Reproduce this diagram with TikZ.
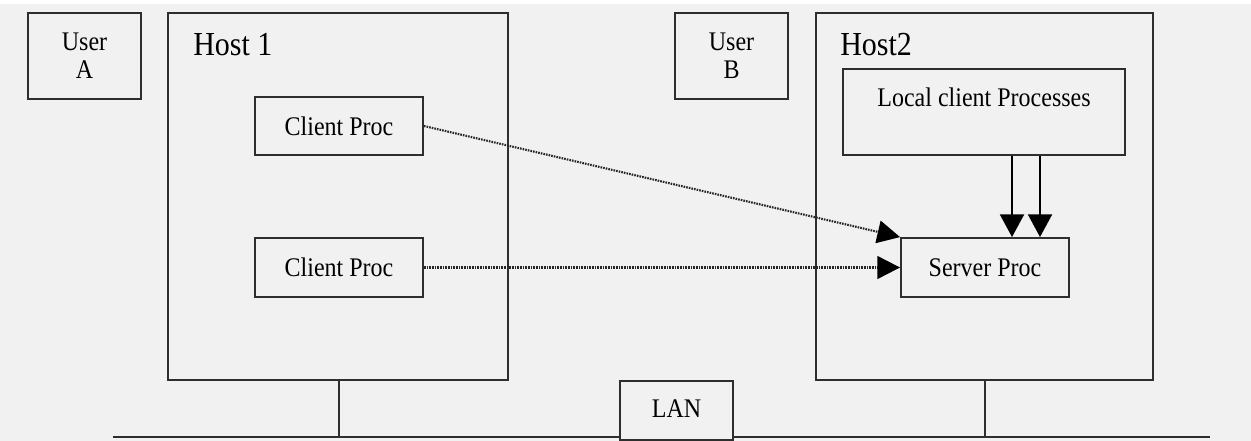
\documentclass[tikz,border=0pt]{standalone}
\usepackage{fontspec}
\setmainfont{Liberation Serif}
\usetikzlibrary{arrows.meta}
\newcommand{\tallt}[1]{\scalebox{1}[1.12]{#1}}
\definecolor{bgc}{HTML}{F1F1F1}
\definecolor{linec}{HTML}{2E2E2E}
\tikzset{
  box/.style={draw=linec, line width=1.4pt, rectangle, inner sep=0pt, font=\fontsize{18}{20}\selectfont, align=center},
  lbl/.style={inner sep=0pt, font=\fontsize{22.5}{24}\selectfont, anchor=west},
  dotarrow/.style={draw=black!85, line width=1.6pt, dash pattern=on 1.2pt off 0.8pt, -{Triangle[length=17pt,width=17pt,color=black,fill=black]}},
  solidarrow/.style={draw=black, line width=1.4pt, -{Triangle[length=17pt,width=18pt]}},
  wire/.style={draw=linec, line width=1.4pt}
}
\begin{document}
\begin{tikzpicture}[x=0.75pt,y=-0.75pt]
\fill[bgc] (0,0) rectangle (1251,441);
\fill[white] (0,0) rectangle (1251,4);
\useasboundingbox (0,0) rectangle (1251,441);

% network line and LAN box
\coordinate (lanL) at (113,437);
\coordinate (lanR) at (1210,437);
\draw[wire] (lanL) -- (lanR);

\node[box, minimum width={113*0.75pt}, minimum height={86*0.75pt}] (userA) at (84.5,56)
  {\tallt{User}\\[1pt]\tallt{A}};
\node[box, minimum width={340*0.75pt}, minimum height={367*0.75pt}] (host1) at (338,196.5) {};
\node[lbl] (host1lbl) at (193,45) {\tallt{Host 1}};
\node[box, minimum width={168*0.75pt}, minimum height={58*0.75pt}] (client1) at (339,126) {\tallt{Client Proc}};
\node[box, minimum width={168*0.75pt}, minimum height={59*0.75pt}] (client2) at (339,267.5) {\tallt{Client Proc}};

\node[box, minimum width={113*0.75pt}, minimum height={86*0.75pt}] (userB) at (731.5,56)
  {\tallt{User}\\[1pt]\tallt{B}};
\node[box, minimum width={337*0.75pt}, minimum height={367*0.75pt}] (host2) at (984.5,196.5) {};
\node[lbl] (host2lbl) at (840,45) {\tallt{Host2}};
\node[box, minimum width={282*0.75pt}, minimum height={86*0.75pt}] (local) at (984,112) {};
\node[inner sep=0pt, font=\fontsize{18}{20}\selectfont] (localtxt) at (984,97) {\tallt{Local client Processes}};
\node[box, minimum width={168*0.75pt}, minimum height={59*0.75pt}] (server) at (985,267.5) {\tallt{Server Proc}};

\node[box, fill=bgc, minimum width={113*0.75pt}, minimum height={59*0.75pt}] (lan) at (676.5,410.5) {\raisebox{3pt}{\tallt{LAN}}};

% hosts to LAN line
\coordinate (h1b) at (339,437);
\coordinate (h2b) at (985,437);
\draw[wire] (host1.south -| h1b) -- (h1b);
\draw[wire] (host2.south -| h2b) -- (h2b);

% arrows
\draw[dotarrow] (client1.east) -- (server.north west);
\draw[dotarrow] (client2.east) -- (server.west);
\coordinate (d1) at (1012,0);
\coordinate (d2) at (1040,0);
\draw[solidarrow] (local.south -| d1) -- (server.north -| d1);
\draw[solidarrow] (local.south -| d2) -- (server.north -| d2);
\end{tikzpicture}
\end{document}
